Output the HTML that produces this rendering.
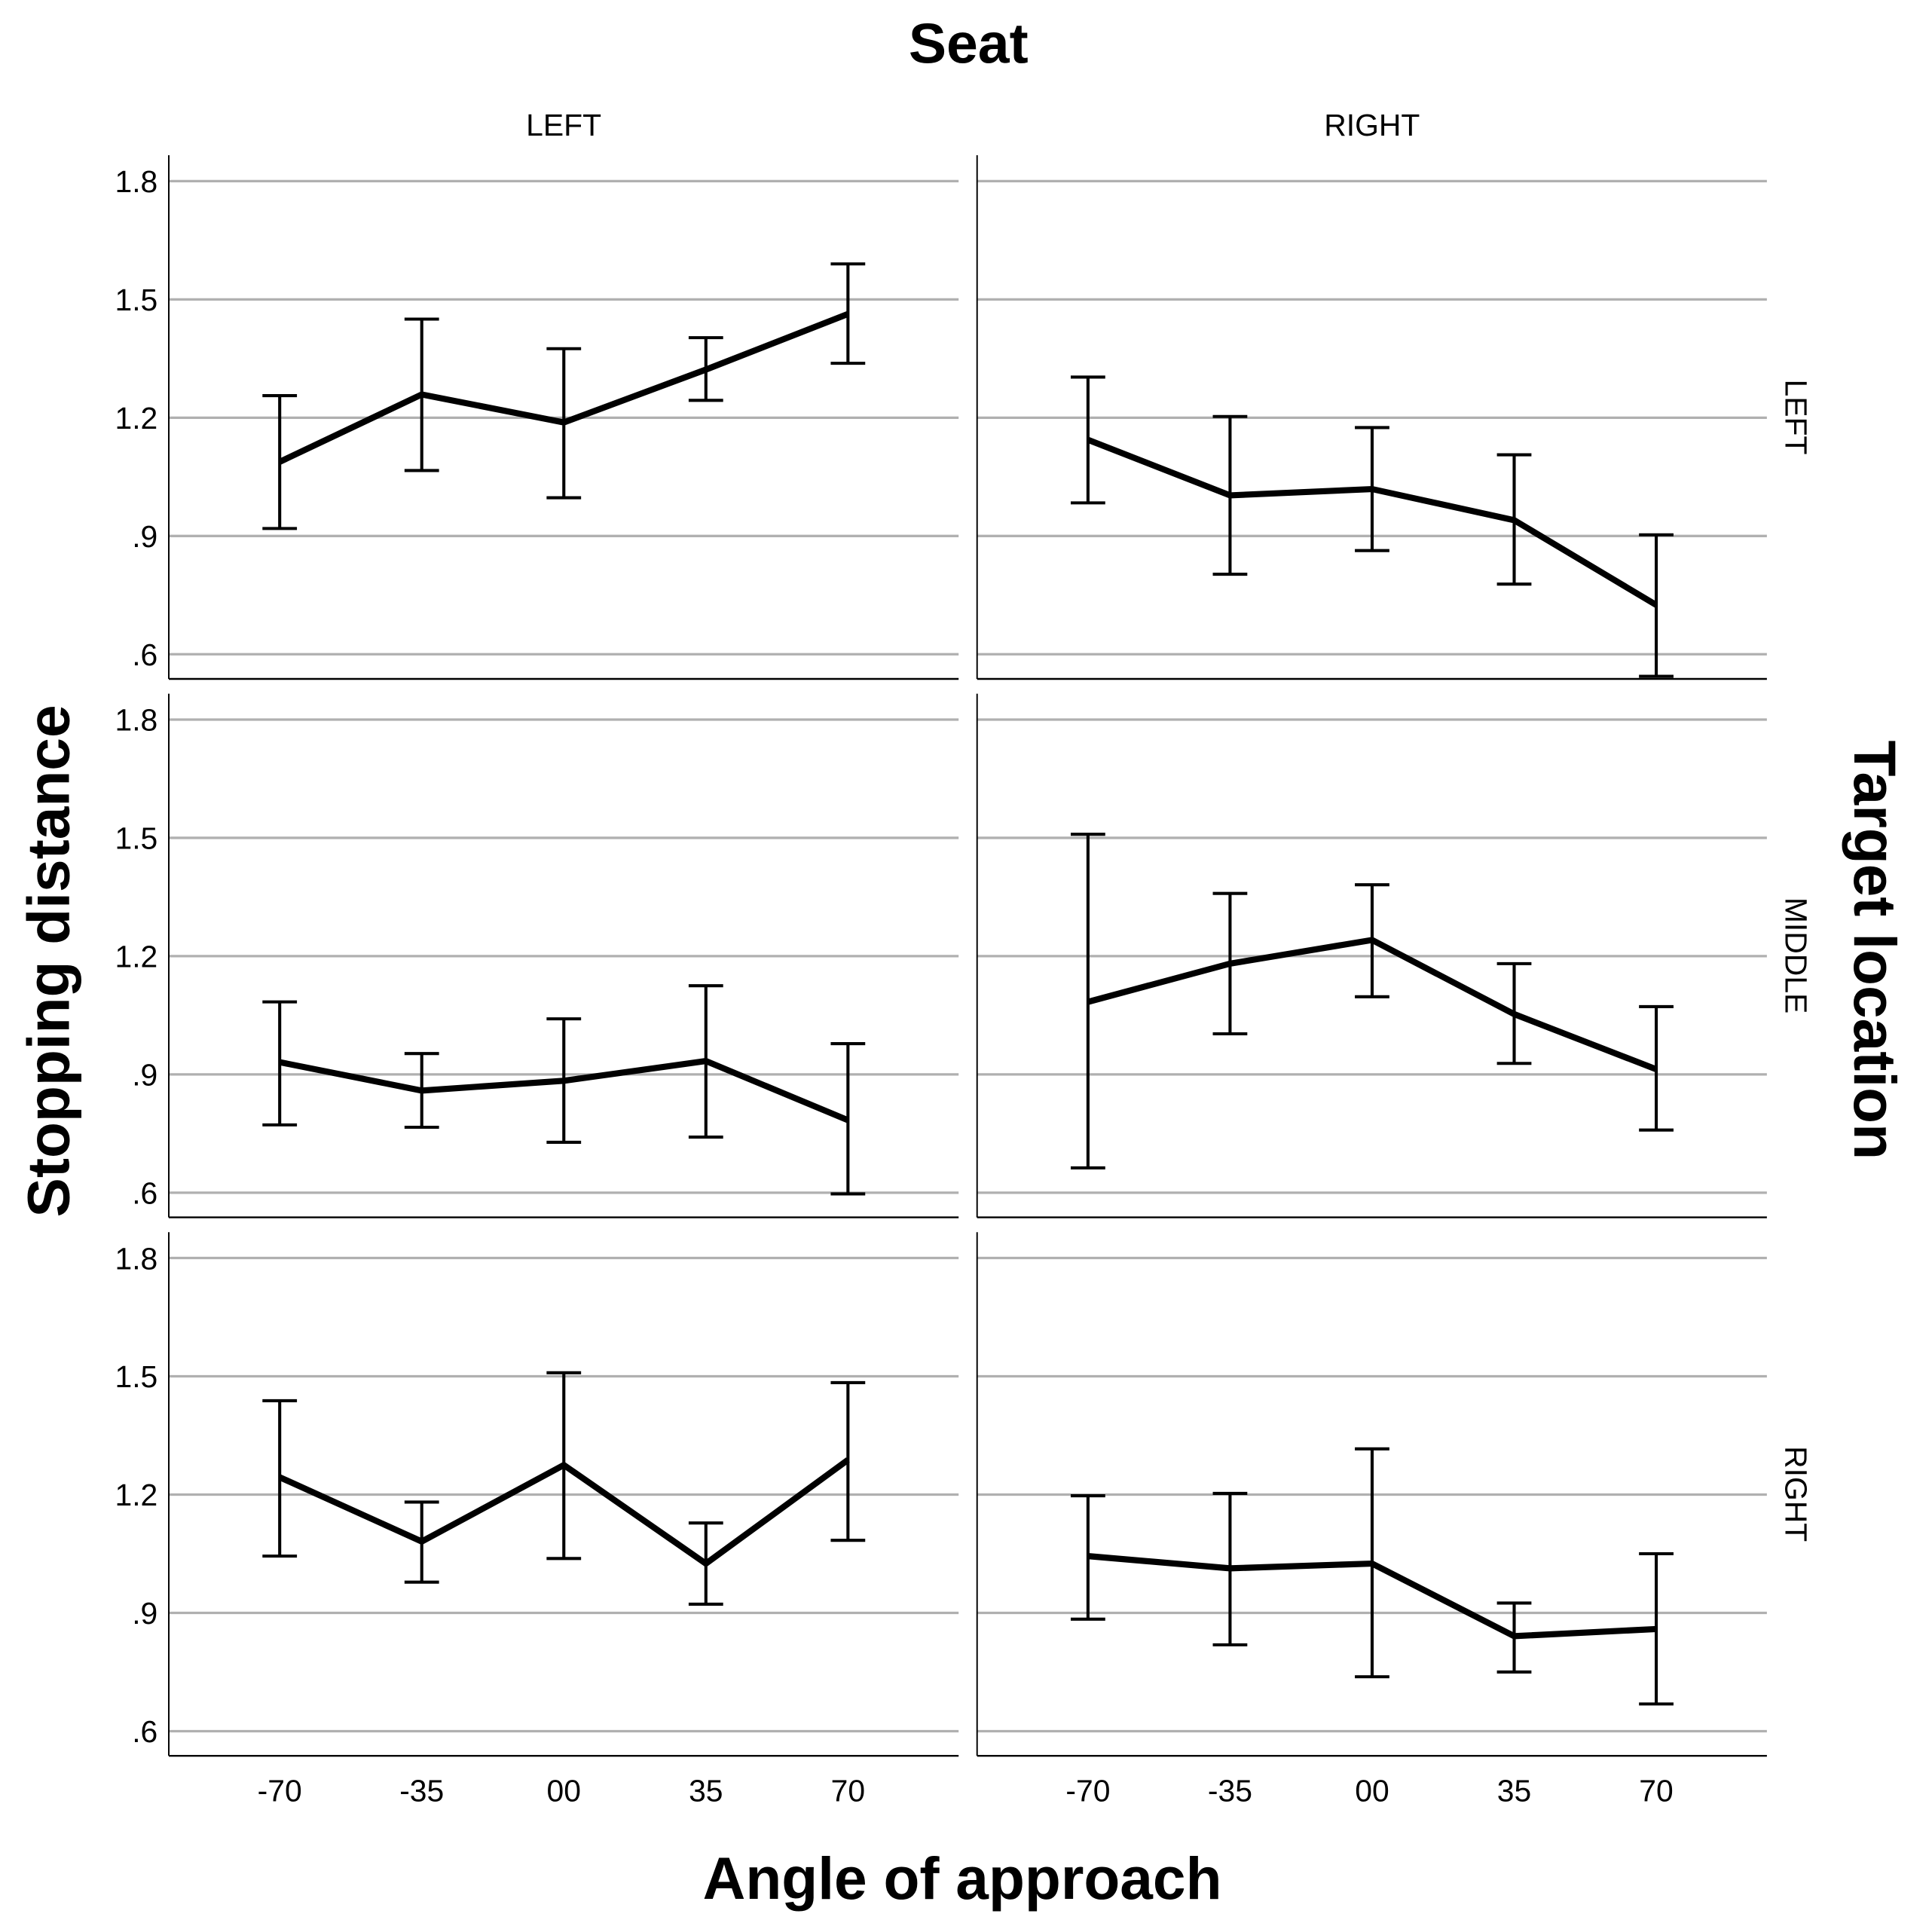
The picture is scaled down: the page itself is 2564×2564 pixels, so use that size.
<!DOCTYPE html>
<html><head><meta charset="utf-8"><style>html,body{margin:0;padding:0;background:#fff}svg{display:block}text{font-family:"Liberation Sans",sans-serif}</style></head>
<body>
<svg id="chart" width="2564" height="2564" viewBox="0 0 1568 1568" xmlns="http://www.w3.org/2000/svg">
<text x="786" y="51" text-anchor="middle" font-size="46" font-weight="bold">Seat</text>
<text x="781" y="1541" text-anchor="middle" font-size="48" font-weight="bold">Angle of approach</text>
<text transform="translate(56,780) rotate(-90)" text-anchor="middle" font-size="48" font-weight="bold">Stopping distance</text>
<text transform="translate(1505,771) rotate(90)" text-anchor="middle" font-size="48" font-weight="bold">Target location</text>
<g id="g"></g>
</svg>
<script>
const categories = ["-70","-35","00","35","70"];
const yTicks = [0.6,0.9,1.2,1.5,1.8];
const yTickLabels = [".6",".9","1.2","1.5","1.8"];
const colLabels = ["LEFT","RIGHT"];
const rowLabels = ["LEFT","MIDDLE","RIGHT"];
const meanLL = [1.088,1.259,1.188,1.322,1.463];
const lowLL  = [0.919,1.066,0.997,1.244,1.338];
const highLL = [1.256,1.45,1.375,1.403,1.59];
const meanLR = [1.144,1.003,1.019,0.94,0.725];
const lowLR  = [0.984,0.803,0.863,0.778,0.544];
const highLR = [1.303,1.203,1.175,1.106,0.903];
const meanML = [0.931,0.859,0.884,0.934,0.784];
const lowML  = [0.772,0.766,0.728,0.741,0.597];
const highML = [1.084,0.953,1.041,1.125,0.978];
const meanMR = [1.084,1.181,1.241,1.053,0.913];
const lowMR  = [0.663,1.003,1.097,0.928,0.759];
const highMR = [1.509,1.359,1.381,1.181,1.072];
const meanRL = [1.244,1.081,1.275,1.025,1.288];
const lowRL  = [1.044,0.978,1.038,0.922,1.084];
const highRL = [1.438,1.181,1.509,1.128,1.484];
const meanRR = [1.044,1.013,1.025,0.841,0.859];
const lowRR  = [0.884,0.819,0.738,0.75,0.669];
const highRR = [1.197,1.203,1.316,0.925,1.05];
const panels = [[ [meanLL,lowLL,highLL],[meanLR,lowLR,highLR] ],
                [ [meanML,lowML,highML],[meanMR,lowMR,highMR] ],
                [ [meanRL,lowRL,highRL],[meanRR,lowRR,highRR] ]];
const NS="http://www.w3.org/2000/svg", g=document.getElementById('g');
function mk(t,a,p){const e=document.createElementNS(NS,t);for(const k in a)e.setAttribute(k,a[k]);(p||g).appendChild(e);return e;}
const colX=[137,793], pw=641, rowY=[126,563,1000], ph=425;
function yS(r,v){return rowY[r]+21+(1.8-v)*320;}
function xS(c,i){return colX[c]+90+i*115.3;}
for(let c=0;c<2;c++){
  const t=mk('text',{x:colX[c]+pw/2,y:110,'text-anchor':'middle','font-size':25});t.textContent=colLabels[c];
  
  
}
for(let r=0;r<3;r++){
  const t=mk('text',{transform:`translate(1449,${rowY[r]+ph/2}) rotate(90)`,'text-anchor':'middle','font-size':25});t.textContent=rowLabels[r];
  
  
  for(let c=0;c<2;c++){
    const pg=mk('g',{});
    
    
    yTicks.forEach((v,k)=>{
      const y=yS(r,v);
      const gl=mk('line',{x1:colX[c],x2:colX[c]+pw,y1:y,y2:y,stroke:'#b0b0b0','stroke-width':2},pg);
      
      
      if(c===0){const tl=mk('text',{x:128,y:y+9,'text-anchor':'end','font-size':25},pg);tl.textContent=yTickLabels[k];
        
        }
    });
    const al=mk('line',{x1:colX[c],x2:colX[c],y1:rowY[r],y2:rowY[r]+ph,stroke:'#000','stroke-width':1.2},pg);
    
    
    const bl=mk('line',{x1:colX[c],x2:colX[c]+pw,y1:rowY[r]+ph,y2:rowY[r]+ph,stroke:'#000','stroke-width':1.5},pg);
    
    
    const [m,lo,hi]=panels[r][c];
    for(let i=0;i<5;i++){
      const x=xS(c,i),y1=yS(r,lo[i]),y2=yS(r,hi[i]);
      const eb=mk('path',{d:`M${x},${y1}V${y2}M${x-14},${y1}H${x+14}M${x-14},${y2}H${x+14}`,stroke:'#000','stroke-width':2.5,fill:'none'},pg);
      
      
    }
    const ln=mk('polyline',{points:m.map((v,i)=>xS(c,i)+','+yS(r,v)).join(' '),stroke:'#000','stroke-width':5,fill:'none','stroke-linejoin':'miter'},pg);
    
    
    if(r===2){categories.forEach((s,i)=>{const tl=mk('text',{x:xS(c,i),y:1462,'text-anchor':'middle','font-size':25},pg);tl.textContent=s;
      
      });}
  }
}
</script>
</body></html>
